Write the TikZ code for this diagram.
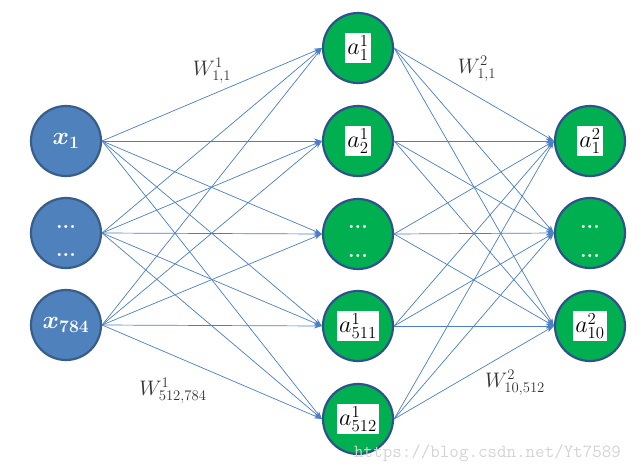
\RequirePackage{fix-cm}
\documentclass[tikz,border=0pt]{standalone}
\usepackage{amsmath,bm}
\usetikzlibrary{arrows.meta}
\definecolor{inblue}{HTML}{4F81BD}
\definecolor{inborder}{HTML}{385D8A}
\definecolor{hgreen}{HTML}{00B050}
\definecolor{hborder}{HTML}{2F528F}
\definecolor{edgeblue}{HTML}{4A7EC7}
\definecolor{wmark}{HTML}{D4D4D4}
\begin{document}
\begin{tikzpicture}[x=1pt,y=-1pt,
  inode/.style={circle, minimum size=70pt, inner sep=0pt, fill=inblue, draw=inborder, line width=2.2pt, text=white, font=\fontsize{25}{27}\selectfont},
  gnode/.style={circle, minimum size=70pt, inner sep=0pt, fill=hgreen, draw=hborder, line width=2.2pt},
  lab/.style={fill=white, inner sep=2.5pt, font=\fontsize{24}{26}\selectfont},
  dotlab/.style={anchor=base, inner sep=0pt, text=white, font=\fontsize{21}{23}\selectfont\bfseries},
  conn/.style={draw=edgeblue, line width=0.7pt, -{Stealth[length=8pt,width=5pt]}},
  wlab/.style={font=\fontsize{21}{23}\selectfont, text=black!80}
]
\useasboundingbox (0,0) rectangle (643,475);
% input layer
\node[inode] (x1) at (66,141) {$\bm{x_1}$};
\node[inode] (x2) at (66,233) {};
\node[inode] (x3) at (66,325) {$\bm{x_{784}}$};
\node[dotlab] (x2a) at (66,228) {...};
\node[dotlab] (x2b) at (66,256) {...};
% hidden layer
\node[gnode] (h1) at (358,48) {};
\node[gnode] (h2) at (358,141) {};
\node[gnode] (h3) at (358,234) {};
\node[gnode] (h4) at (358,326) {};
\node[gnode] (h5) at (358,419) {};
\node[lab] (h1l) at (h1) {$a^1_1$};
\node[lab] (h2l) at (h2) {$a^1_2$};
\node[dotlab] (h3a) at (358,228) {...};
\node[dotlab] (h3b) at (358,257) {...};
\node[lab] (h4l) at (h4) {$a^1_{511}$};
\node[lab] (h5l) at (h5) {$a^1_{512}$};
% output layer
\node[gnode] (o1) at (590,141) {};
\node[gnode] (o2) at (590,233) {};
\node[gnode] (o3) at (590,326) {};
\node[lab] (o1l) at (o1) {$a^2_1$};
\node[dotlab] (o2a) at (590,228) {...};
\node[dotlab] (o2b) at (590,257) {...};
\node[lab] (o3l) at (o3) {$a^2_{10}$};
% connections
\foreach \i in {x1,x2,x3}{
  \foreach \j in {h1,h2,h3,h4,h5}{
    \draw[conn] (\i.east) -- (\j.west);
  }
}
\foreach \i in {h1,h2,h3,h4,h5}{
  \foreach \j in {o1,o2,o3}{
    \draw[conn] (\i.east) -- (\j.west);
  }
}
% weight labels
\node[wlab] (w1) at (212,71) {$W^1_{1,1}$};
\node[wlab] (w2) at (173,391) {$W^1_{512,784}$};
\node[wlab] (w3) at (477,69) {$W^2_{1,1}$};
\node[wlab] (w4) at (515,383) {$W^2_{10,512}$};
% watermark
\node[anchor=west, inner sep=0pt, text=wmark, font=\fontsize{18.5}{20}\selectfont\ttfamily] (wm) at (354,453) {https://blog.csdn.net/Yt7589};
\end{tikzpicture}
\end{document}
